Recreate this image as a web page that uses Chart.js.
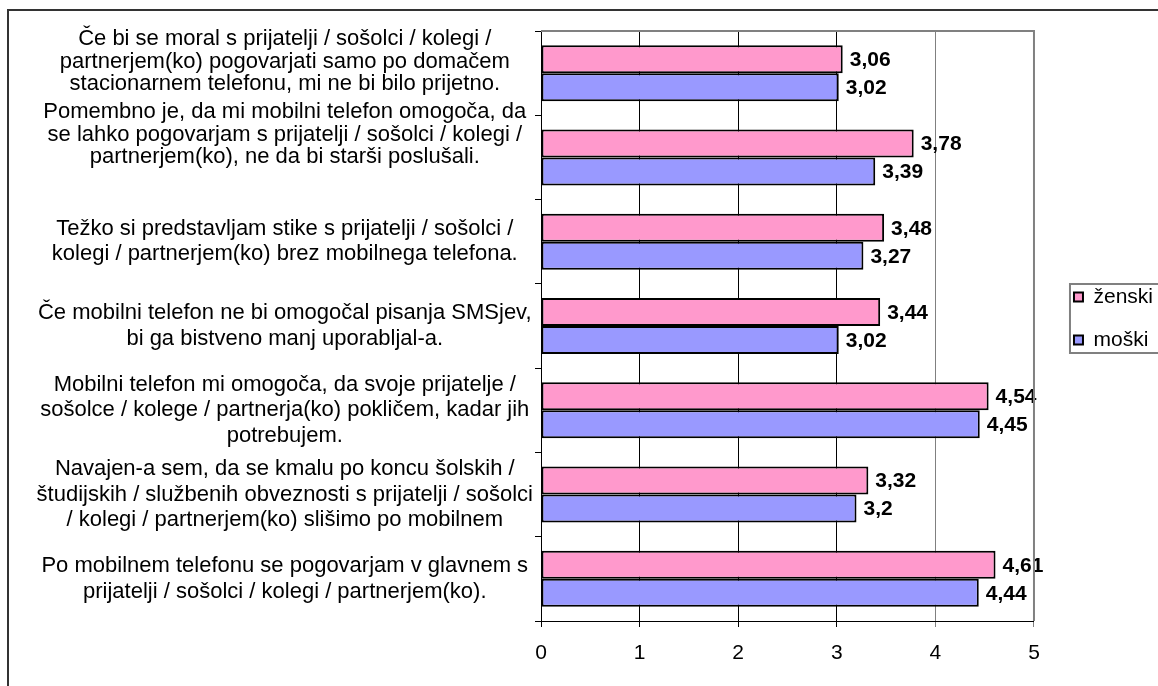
<!DOCTYPE html>
<html>
<head>
<meta charset="utf-8">
<script src="https://cdn.jsdelivr.net/npm/chart.js@4.4.1/dist/chart.umd.min.js"></script>
<style>
  html, body { margin: 0; padding: 0; background: #fff; overflow: hidden; }
  #wrap { position: relative; width: 1158px; height: 686px; }
</style>
</head>
<body>
<div id="wrap"><canvas id="chart" width="1158" height="686"></canvas></div>
<script>
// trailing empty lines lift the first two statements towards the top of their rows
const statements = [
  ["Če bi se moral s prijatelji / sošolci / kolegi /", "partnerjem(ko) pogovarjati samo po domačem", "stacionarnem telefonu, mi ne bi bilo prijetno.", ""],
  ["Pomembno je, da mi mobilni telefon omogoča, da", "se lahko pogovarjam s prijatelji / sošolci / kolegi /", "partnerjem(ko), ne da bi starši poslušali.", "", ""],
  ["Težko si predstavljam stike s prijatelji / sošolci /", "kolegi / partnerjem(ko) brez mobilnega telefona."],
  ["Če mobilni telefon ne bi omogočal pisanja SMSjev,", "bi ga bistveno manj uporabljal-a."],
  ["Mobilni telefon mi omogoča, da svoje prijatelje /", "sošolce / kolege / partnerja(ko) pokličem, kadar jih", "potrebujem."],
  ["Navajen-a sem, da se kmalu po koncu šolskih /", "študijskih / službenih obveznosti s prijatelji / sošolci", "/ kolegi / partnerjem(ko) slišimo po mobilnem"],
  ["Po mobilnem telefonu se pogovarjam v glavnem s", "prijatelji / sošolci / kolegi / partnerjem(ko)."]
];
const zenski = [3.06, 3.78, 3.48, 3.44, 4.54, 3.32, 4.61];
const moski = [3.02, 3.39, 3.27, 3.02, 4.45, 3.2, 4.44];
const seriesNames = ["ženski", "moški"];
const xTicks = [0, 1, 2, 3, 4, 5];

const FONT = "'Liberation Sans', Arial, sans-serif";

// outer frame, plot border (top/right) and legend frame
const frames = {
  id: "frames",
  afterLayout(chart) {
    // push the legend a bit right and up, next to the plot's middle
    const lg = chart.legend;
    lg.left += 18; lg.right += 18;
    lg.top -= 40; lg.bottom -= 40;
  },
  beforeDraw(chart) {
    const ctx = chart.ctx;
    ctx.save();
    ctx.strokeStyle = "#333";
    ctx.lineWidth = 2;
    ctx.strokeRect(8, 10, 1300, 1000);
    ctx.restore();
  },
  afterDraw(chart) {
    const ctx = chart.ctx;
    const a = chart.chartArea;
    ctx.save();
    ctx.strokeStyle = "#808080";
    ctx.lineWidth = 2;
    ctx.beginPath();
    ctx.moveTo(a.left, a.top);
    ctx.lineTo(a.right, a.top);
    ctx.lineTo(a.right, a.bottom);
    ctx.stroke();
    const lg = chart.legend;
    ctx.strokeRect(lg.left + 18, 284, 200, 69);
    ctx.restore();
  }
};

// value labels at the end of each bar
const barValues = {
  id: "barValues",
  afterDatasetsDraw(chart) {
    const ctx = chart.ctx;
    ctx.save();
    ctx.font = "bold 21px " + FONT;
    ctx.fillStyle = "#000";
    ctx.textBaseline = "middle";
    ctx.textAlign = "left";
    chart.data.datasets.forEach((ds, i) => {
      chart.getDatasetMeta(i).data.forEach((bar, j) => {
        const txt = String(ds.data[j]).replace(".", ",");
        ctx.fillText(txt, bar.x + 7, bar.y + 1);
      });
    });
    ctx.restore();
  }
};

new Chart(document.getElementById("chart"), {
  type: "bar",
  data: {
    labels: statements,
    datasets: [
      { label: seriesNames[0], data: zenski, backgroundColor: "#FF99CC", borderColor: "#000", borderWidth: 2, borderSkipped: false },
      { label: seriesNames[1], data: moski, backgroundColor: "#9999FF", borderColor: "#000", borderWidth: 2, borderSkipped: false }
    ]
  },
  options: {
    indexAxis: "y",
    responsive: false,
    animation: false,
    events: [],
    datasets: { bar: { categoryPercentage: 0.664, barPercentage: 1.0 } },
    layout: { padding: { left: 20, top: 31, right: 13, bottom: 0 } },
    plugins: {
      legend: {
        position: "right",
        align: "center",
        labels: {
          boxWidth: 9,
          boxHeight: 9,
          padding: 22,
          color: "#000",
          font: { family: FONT, size: 21 }
        }
      },
      tooltip: { enabled: false }
    },
    scales: {
      x: {
        min: 0,
        max: 5,
        afterBuildTicks(scale) { scale.ticks = xTicks.map(v => ({ value: v })); },
        afterFit(scale) { scale.height = 65; },
        grid: {
          color: ctx => (ctx.tick && ctx.tick.value >= 4 ? "#808080" : "#000"),
          lineWidth: 1,
          tickLength: 6
        },
        border: { color: "#000", width: 1 },
        ticks: { color: "#000", padding: 14, font: { family: FONT, size: 21 } }
      },
      y: {
        afterFit(scale) { scale.width = 521; },
        grid: { drawOnChartArea: false, color: "#000", tickLength: 6 },
        border: { color: "#000", width: 1 },
        ticks: {
          autoSkip: false,
          crossAlign: "center",
          padding: 2,
          color: "#000",
          // the first two statements sit a little tighter
          font: ctx => ({ family: FONT, size: 22, lineHeight: ctx.index < 2 ? 1.023 : 1.15 })
        }
      }
    }
  },
  plugins: [frames, barValues]
});
</script>
</body>
</html>
